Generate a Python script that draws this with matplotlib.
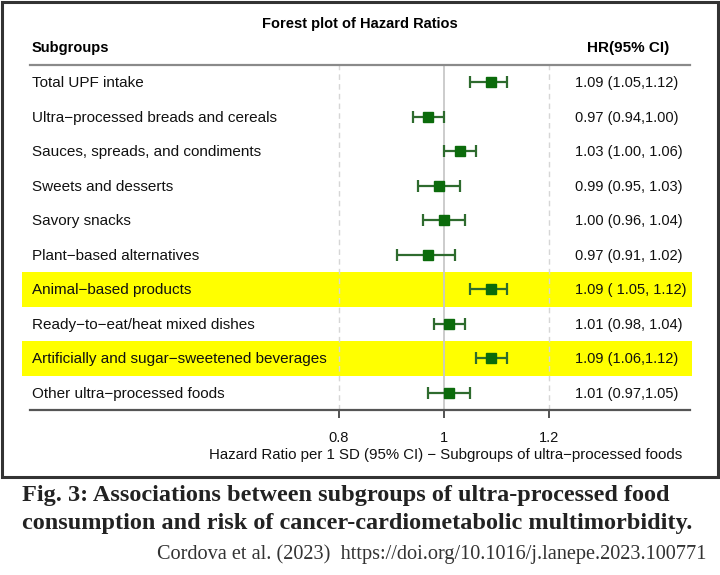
import matplotlib
matplotlib.use("Agg")
import matplotlib.pyplot as plt
from matplotlib.patches import Rectangle
import matplotlib.transforms as mtransforms

subgroups = [
    "Total UPF intake",
    "Ultra\u2212processed breads and cereals",
    "Sauces, spreads, and condiments",
    "Sweets and desserts",
    "Savory snacks",
    "Plant\u2212based alternatives",
    "Animal\u2212based products",
    "Ready\u2212to\u2212eat/heat mixed dishes",
    "Artificially and sugar\u2212sweetened beverages",
    "Other ultra\u2212processed foods",
]
hr = [1.09, 0.97, 1.03, 0.99, 1.00, 0.97, 1.09, 1.01, 1.09, 1.01]
lower = [1.05, 0.94, 1.00, 0.95, 0.96, 0.91, 1.05, 0.98, 1.06, 0.97]
upper = [1.12, 1.00, 1.06, 1.03, 1.04, 1.02, 1.12, 1.04, 1.12, 1.05]
hr_labels = [
    "1.09 (1.05,1.12)",
    "0.97 (0.94,1.00)",
    "1.03 (1.00, 1.06)",
    "0.99 (0.95, 1.03)",
    "1.00 (0.96, 1.04)",
    "0.97 (0.91, 1.02)",
    "1.09 ( 1.05, 1.12)",
    "1.01 (0.98, 1.04)",
    "1.09 (1.06,1.12)",
    "1.01 (0.97,1.05)",
]
highlight = [6, 8]
xticks = [0.8, 1.0, 1.2]
xtick_labels = ["0.8", "1", "1.2"]

W, H = 720, 575
fig = plt.figure(figsize=(W / 100, H / 100), dpi=100)
fig.patch.set_facecolor("white")

sans = "Liberation Sans"
serif = "Liberation Serif"

def fx(px):
    return px / W

def fy(py):
    return 1 - py / H

# main axes: x pixel 30..690, y pixel 65..410
ax = fig.add_axes([fx(30), fy(410), fx(690) - fx(30), fy(65) - fy(410)])
x_left = 1 + (30 - 444) / 525
x_right = 1 + (690 - 444) / 525
ax.set_xlim(x_left, x_right)
n = len(subgroups)
ax.set_ylim(n - 0.5, -0.5)
ax.set_facecolor("none")

for s in ["left", "right"]:
    ax.spines[s].set_visible(False)
ax.spines["top"].set_color("#8a8a8a")
ax.spines["top"].set_linewidth(1.6)
ax.spines["bottom"].set_color("#555555")
ax.spines["bottom"].set_linewidth(1.6)
ax.set_yticks([])
ax.set_xticks(xticks)
ax.set_xticklabels(xtick_labels, fontsize=10.5, family=sans, color="#111111")
ax.tick_params(axis="x", length=6, width=1.3, color="#444444", pad=9)

fig.text(fx(446), fy(455),
         "Hazard Ratio per 1 SD (95% CI) \u2212 Subgroups of ultra\u2212processed foods",
         ha="center", va="center", fontsize=10.8, family=sans, color="#111111")

# highlight rows
blend = mtransforms.blended_transform_factory(fig.transFigure, ax.transData)
for i in highlight:
    ax.add_patch(Rectangle((fx(22), i - 0.5), fx(692) - fx(22), 1.0,
                           transform=blend, facecolor="#ffff00", edgecolor="none",
                           zorder=0, clip_on=False))

# reference lines
ax.axvline(1.0, color="#c8c8c8", lw=1.3, zorder=1)
for v in [0.8, 1.2]:
    ax.axvline(v, color="#d6d6d6", lw=1.0, ls=(0, (4, 3)), zorder=1)

# error bars
ys = list(range(n))
xerr = [[h - l for h, l in zip(hr, lower)], [u - h for h, u in zip(hr, upper)]]
ax.errorbar(hr, ys, xerr=xerr, fmt="s", color="#0b6b0b", ecolor="#2e6b2e",
            markersize=7, elinewidth=1.6, capsize=4, capthick=1.6, zorder=3)

# labels
for i, (lab, hl) in enumerate(zip(subgroups, hr_labels)):
    ax.text(fx(32), i + 0.03, lab, transform=blend, ha="left", va="center",
            fontsize=11, family=sans, color="#111111")
    ax.text(fx(575), i + 0.03, hl, transform=blend, ha="left", va="center",
            fontsize=10.5, family=sans, color="#111111")

fig.text(fx(360), fy(24), "Forest plot of Hazard Ratios", ha="center", va="center",
         fontsize=10.5, fontweight="bold", family=sans)
fig.text(fx(32), fy(48), "Subgroups", ha="left", va="center",
         fontsize=10.5, fontweight="bold", family=sans)
fig.text(fx(669), fy(48), "HR(95% CI)", ha="right", va="center",
         fontsize=11, fontweight="bold", family=sans)

# frame
fig.patches.append(Rectangle((fx(1.5), fy(477)), fx(717.5) - fx(1.5), fy(1.5) - fy(477),
                             transform=fig.transFigure, fill=False,
                             edgecolor="#333333", lw=2.2))

# caption
fig.text(fx(22), fy(495), "Fig. 3: Associations between subgroups of ultra-processed food",
         ha="left", va="center", fontsize=17.5, fontweight="bold", family=serif, color="#222222")
fig.text(fx(22), fy(524), "consumption and risk of cancer-cardiometabolic multimorbidity.",
         ha="left", va="center", fontsize=17.5, fontweight="bold", family=serif, color="#222222")
fig.text(fx(706), fy(554), "Cordova et al. (2023)  https://doi.org/10.1016/j.lanepe.2023.100771",
         ha="right", va="center", fontsize=14.6, family=serif, color="#333333")

fig.savefig("out.png", dpi=100, facecolor="white")
